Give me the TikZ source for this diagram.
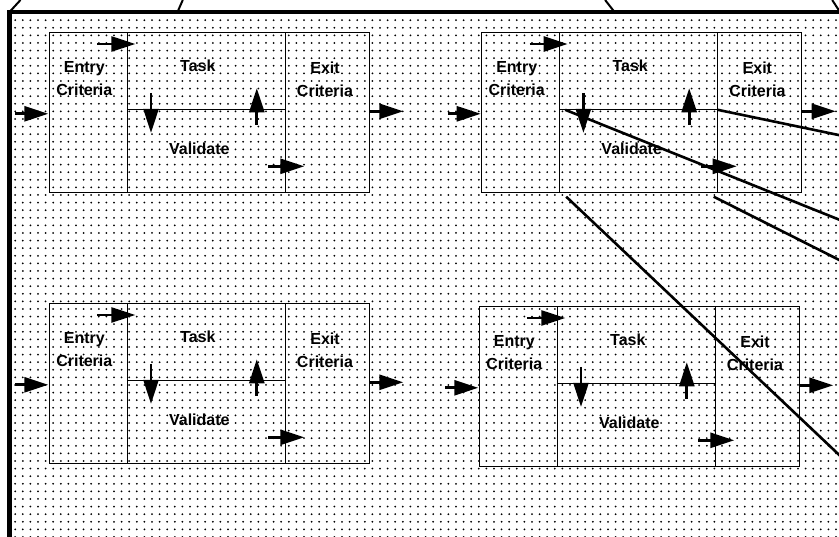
\documentclass[tikz,border=0pt]{standalone}
\usepackage{fontspec}
\setmainfont{Liberation Sans}
\usetikzlibrary{arrows.meta,calc,positioning,patterns.meta}

% one stage: entry, task, validate, exit
\newcommand{\stage}[2]{%
  \node[cell, minimum width=78pt,  minimum height=160pt]  (#1e) at (#2) {};
  \node[cell, minimum width=158pt, minimum height=77.5pt] (#1t) at (#1e.north east) {};
  \node[cell, minimum width=158pt, minimum height=82.5pt] (#1v) at (#1t.south west) {};
  \node[cell, minimum width=84pt,  minimum height=160pt]  (#1x) at (#1t.north east) {};
  \node[lbl] (#1el) at ($(#1e.north west)+(35,46)$)   {Entry\\Criteria};
  \node[lbl] (#1tl) at ($(#1t.north west)+(70.5,33.5)$) {Task};
  \node[lbl] (#1vl) at ($(#1v.north west)+(72,38.5)$)   {Validate};
  \node[lbl] (#1xl) at ($(#1x.north west)+(39.7,47)$)   {Exit\\Criteria};
  \draw[arr] ($(#1e.west)+(-34,1.5)$) -- ($(#1e.west)+(-1,1.5)$);
  \draw[arr] ($(#1e.north east)+(-30,11.7)$) -- ($(#1t.north west)+(8,11.7)$);
  \draw[arr] ($(#1t.south west)+(23.7,-17)$) -- ($(#1v.north west)+(23.7,23)$);
  \draw[arr] ($(#1v.north east)+(-28.5,15)$) -- ($(#1t.south east)+(-28.5,-21.5)$);
  \draw[arr] ($(#1v.south east)+(-17,-26)$) -- ($(#1x.south west)+(19,-26)$);
  \draw[arr] ($(#1x.east)+(0,-1)$) -- ($(#1x.east)+(34,-1)$);
}

\begin{document}
\begin{tikzpicture}[x=1pt,y=-1pt,
    cell/.style={draw=black, line width=1.3pt, outer sep=0pt, inner sep=0pt,
                 anchor=north west},
    lbl/.style={align=center, inner sep=0pt,
                font=\fontsize{16}{23}\selectfont\bfseries},
    arr/.style={-{Triangle[length=24pt,width=15pt]}, line width=2.7pt},
    frame/.style={draw=black, line width=4.5pt, outer sep=0pt, anchor=north west,
                  pattern={Dots[distance=7.6pt,radius=1pt]}, pattern color=black},
    topline/.style={line width=2pt},
    zoomline/.style={line width=2.6pt}]
  \useasboundingbox (0,0) rectangle (839,537);
  \clip (0,0) rectangle (839,537);

  \node[frame, minimum width=900pt, minimum height=600pt] (frame) at (9.5,12) {};
  \draw[topline] (frame.north west) -- +(11,-12);
  \draw[topline] ($(frame.north west)+(168,0)$) -- +(5.3,-12);
  \draw[topline] ($(frame.north west)+(605,0)$) -- +(-9.4,-12);
  \draw[topline] ($(frame.north west)+(830.5,0)$) -- +(-7.8,-12);

  \stage{a}{49.3,32.3}
  \stage{b}{481.7,32.3}
  \stage{c}{49.3,303.3}
  \stage{d}{479.3,306.3}

  % lines out of the second validate box
  \draw[zoomline] (bv.north east) -- +(150,31.3);
  \draw[zoomline] ($(bv.north west)+(5.5,0)$) -- +(300,120.3);
  \draw[zoomline] ($(bv.south east)+(-4,4.4)$) -- +(150,75.6);
  \draw[zoomline] ($(bv.south west)+(6.5,4.4)$) -- +(300,283.8);
\end{tikzpicture}
\end{document}
